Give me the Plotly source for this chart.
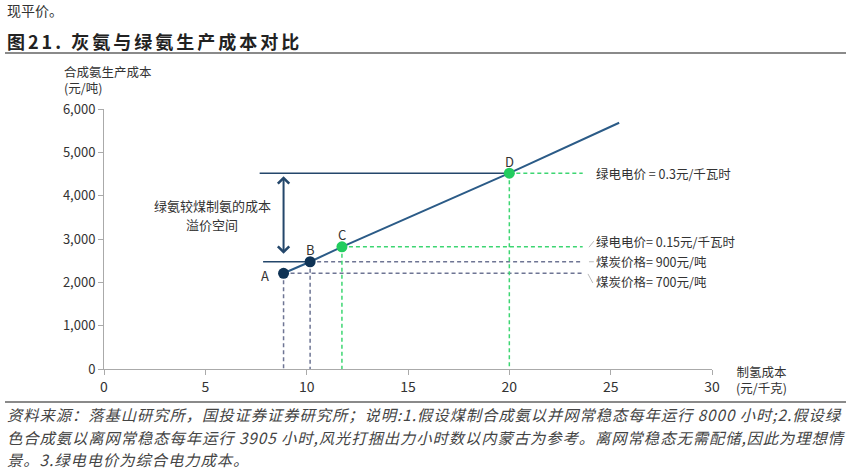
import plotly.graph_objects as go

# ---------------- data ----------------
point_labels = ["A", "B", "C", "D"]
point_x = [8.86, 10.17, 11.74, 20.0]          # 制氢成本 (元/千克)
point_y = [2209, 2475, 2820, 4520]            # 合成氨生产成本 (元/吨)
point_kind = ["coal", "coal", "green", "green"]

line_x = [8.86, 10.17, 11.74, 20.0, 25.42]
line_y = [2209, 2475, 2820, 4520, 5683]

gray_line_top_x = [7.68, 20.0]
gray_line_low_x = [7.85, 10.17]

right_labels = ["绿电电价 = 0.3元/千瓦时", "绿电电价= 0.15元/千瓦时", "煤炭价格= 900元/吨", "煤炭价格= 700元/吨"]
right_label_y = [4510, 2950, 2470, 2030]

x_ticks = [0, 5, 10, 15, 20, 25, 30]
y_ticks = [0, 1000, 2000, 3000, 4000, 5000, 6000]

title_text = "图21. 灰氨与绿氨生产成本对比"
top_text = "现平价。"
note_lines = [
    "资料来源：落基山研究所，国投证券证券研究所；说明:1.假设煤制合成氨以并网常稳态每年运行 8000 小时;2.假设绿",
    "色合成氨以离网常稳态每年运行 3905 小时,风光打捆出力小时数以内蒙古为参考。离网常稳态无需配储,因此为理想情",
    "景。3.绿电电价为综合电力成本。",
]

# ---------------- style ----------------
FONT = "Noto Sans CJK SC"
NAVY = "#0f3355"
LINE = "#2b5b87"
HLINE = "#24476b"
GREEN = "#22cc5e"
GREEN_DASH = "#3dd672"
GRAY_DASH = "#6e7594"
TXT = "#333333"

W, H = 851, 470
L, R, T, B = 104, 139, 109, 101
PW, PH = W - L - R, H - T - B


def px(xp):
    return (xp - L) / PW


def py(yp):
    return 1 - (yp - T) / PH


def paper_text(xp, yp, text, size, color=TXT, xanchor="left", align="left"):
    fig.add_annotation(xref="paper", yref="paper", x=px(xp), y=py(yp), text=text,
                       showarrow=False, xanchor=xanchor, yanchor="middle", align=align,
                       font=dict(family=FONT, size=size, color=color))


fig = go.Figure()

# dashed guide lines
dash_end_x = 23.62
for xv, yv, k in zip(point_x, point_y, point_kind):
    col = GREEN_DASH if k == "green" else GRAY_DASH
    fig.add_trace(go.Scatter(x=[xv, dash_end_x], y=[yv, yv], mode="lines",
                             line=dict(color=col, width=1.5, dash="4px,3px"),
                             hoverinfo="skip", showlegend=False))
    fig.add_trace(go.Scatter(x=[xv, xv], y=[yv, 0], mode="lines",
                             line=dict(color=col, width=1.5, dash="4px,3px"),
                             hoverinfo="skip", showlegend=False))

# horizontal reference lines
fig.add_trace(go.Scatter(x=gray_line_top_x, y=[point_y[3]] * 2, mode="lines",
                         line=dict(color=HLINE, width=1.5), showlegend=False, hoverinfo="skip"))
fig.add_trace(go.Scatter(x=gray_line_low_x, y=[point_y[1]] * 2, mode="lines",
                         line=dict(color=HLINE, width=1.5), showlegend=False, hoverinfo="skip"))

# main cost line
fig.add_trace(go.Scatter(x=line_x, y=line_y, mode="lines",
                         line=dict(color=LINE, width=2), showlegend=False, hoverinfo="skip"))

# points
fig.add_trace(go.Scatter(x=point_x, y=point_y, mode="markers",
                         marker=dict(size=11, color=[GREEN if k == "green" else NAVY for k in point_kind]),
                         showlegend=False, hoverinfo="skip"))

# point labels
label_dx = [-0.92, 0.04, 0.0, 0.03]
label_dy = [-62, 292, 291, 268]
for lab, xv, yv, dx, dy in zip(point_labels, point_x, point_y, label_dx, label_dy):
    fig.add_annotation(x=xv + dx, y=yv + dy, text=lab, showarrow=False,
                       font=dict(family=FONT, size=13, color=TXT))

# right labels + leader lines
for txt, yv in zip(right_labels, right_label_y):
    fig.add_annotation(x=24.17, y=yv, text=txt, showarrow=False, xanchor="left", yanchor="middle",
                       font=dict(family=FONT, size=12.5, color=TXT))
leaders = [([23.93, 24.17], [point_y[2] - 10, 2950]),
           ([23.93, 24.17], [point_y[1], point_y[1]]),
           ([23.88, 24.12], [point_y[0] - 15, 1985])]
for lx, ly in leaders:
    fig.add_trace(go.Scatter(x=lx, y=ly, mode="lines", line=dict(color="#bbbbbb", width=1),
                             showlegend=False, hoverinfo="skip"))

# double arrow
fig.add_annotation(x=point_x[0], y=4450, ax=point_x[0], ay=2625, axref="x", ayref="y",
                   xref="x", yref="y", text="", showarrow=True, arrowhead=4, startarrowhead=4,
                   arrowside="end+start", arrowsize=1.1, startarrowsize=1.1, arrowwidth=2,
                   arrowcolor=HLINE, standoff=0, startstandoff=0)
fig.add_annotation(x=5.34, y=3777, text="绿氨较煤制氨的成本", showarrow=False,
                   font=dict(family=FONT, size=13, color=TXT))
fig.add_annotation(x=5.34, y=3336, text="溢价空间", showarrow=False,
                   font=dict(family=FONT, size=13, color=TXT))

# axis titles
paper_text(62, 79.5, "合成氨生产成本<br>(元/吨)", 12.5)
paper_text(761, 379.5, "制氢成本<br>(元/千克)", 12.5, xanchor="center", align="center")

# header / footer
paper_text(5, 10, top_text, 14)
spaced_title = "\u2006".join(list(title_text))
paper_text(5, 41, "<b>" + spaced_title + "</b>", 18, color="#222222")
fig.add_shape(type="line", xref="paper", yref="paper", x0=px(5), x1=px(846), y0=py(53), y1=py(53),
              line=dict(color="#8a8a8a", width=2))
fig.add_shape(type="line", xref="paper", yref="paper", x0=px(5), x1=px(846), y0=py(402), y1=py(402),
              line=dict(color="#8a8a8a", width=2))
for i, ln in enumerate(note_lines):
    spaced = "\u200a".join(list(ln))
    paper_text(5, 414 + 22.5 * i, "<i>" + spaced + "</i>", 15.3, color="#444444")

fig.update_xaxes(range=[0, 30], tickvals=x_ticks, ticktext=[str(v) for v in x_ticks],
                 showgrid=False, zeroline=False, showline=True, linecolor="#aaaaaa", linewidth=1,
                 ticks="outside", ticklen=5, tickcolor="#aaaaaa",
                 tickfont=dict(family=FONT, size=14, color=TXT))
fig.update_yaxes(range=[0, 6000], tickvals=y_ticks, tickformat=",",
                 showgrid=False, zeroline=False, showline=True, linecolor="#aaaaaa", linewidth=1,
                 ticks="outside", ticklen=5, tickcolor="#aaaaaa",
                 tickfont=dict(family=FONT, size=13, color=TXT))
fig.update_layout(width=W, height=H, margin=dict(l=L, r=R, t=T, b=B),
                  plot_bgcolor="white", paper_bgcolor="white",
                  font=dict(family=FONT, color=TXT))

fig.write_html("out.html")
